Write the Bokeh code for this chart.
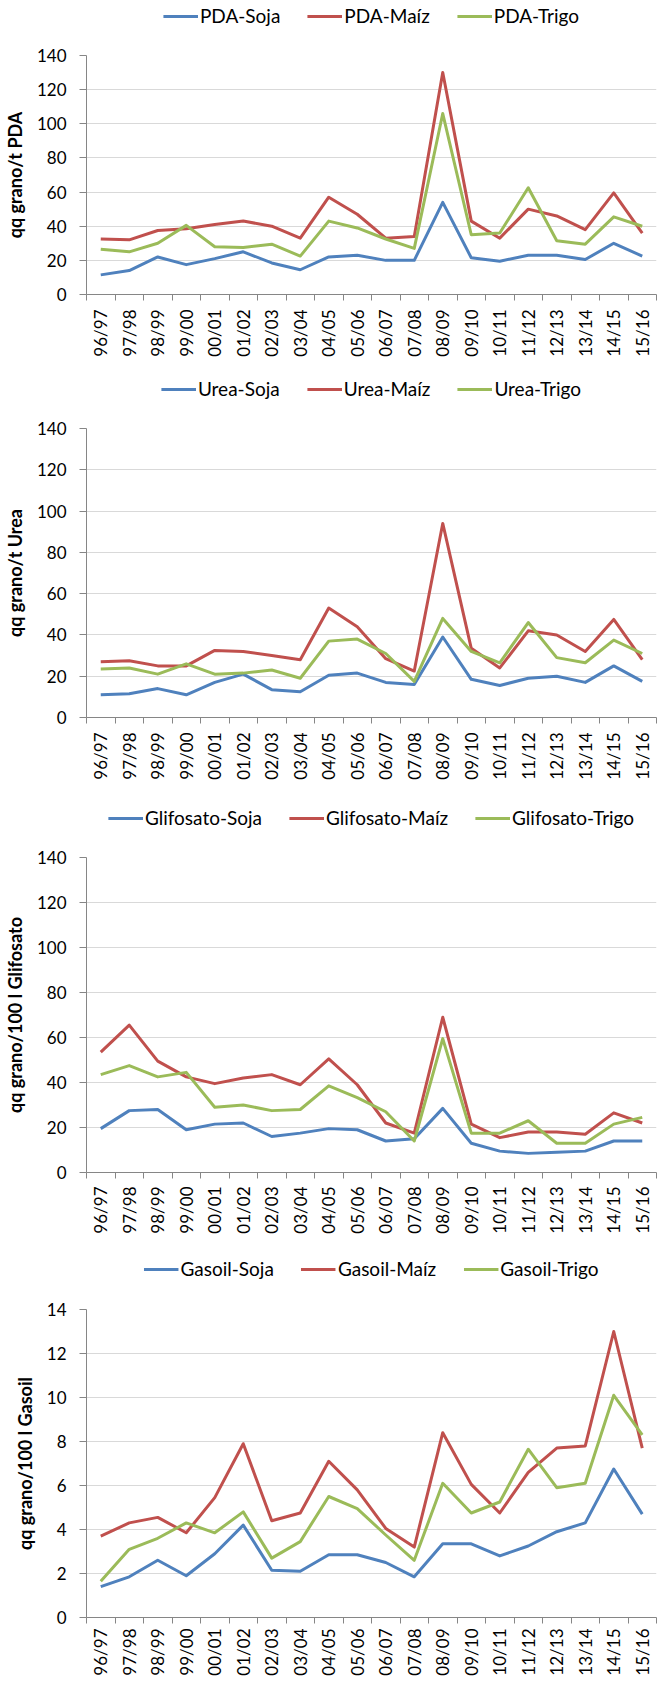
import numpy as np
from bokeh.plotting import figure
from bokeh.models import Range1d, FixedTicker, Legend, LegendItem
from bokeh.layouts import column
from bokeh.embed import file_html
from bokeh.resources import INLINE

seasons = ["96/97", "97/98", "98/99", "99/00", "00/01", "01/02", "02/03", "03/04",
           "04/05", "05/06", "06/07", "07/08", "08/09", "09/10", "10/11", "11/12",
           "12/13", "13/14", "14/15", "15/16"]

pda_soja = [11.5, 14, 22, 17.5, 21, 25, 18.5, 14.5, 22, 23, 20, 20, 54, 21.5, 19.5, 23, 23, 20.5, 30, 22.5]
pda_maiz = [32.5, 32, 37.5, 38.5, 41, 43, 40, 33, 57, 47, 33, 34, 130, 43, 33, 50, 46, 38, 59.5, 36]
pda_trigo = [26.5, 25, 30, 40.5, 28, 27.5, 29.5, 22.5, 43, 39, 32.5, 27, 106, 35, 36, 62.5, 31.5, 29.5, 45.5, 40]

urea_soja = [11, 11.5, 14, 11, 17, 21, 13.5, 12.5, 20.5, 21.5, 17, 16, 39, 18.5, 15.5, 19, 20, 17, 25, 17.5]
urea_maiz = [27, 27.5, 25, 25, 32.5, 32, 30, 28, 53, 44, 28.5, 22.5, 94, 33.5, 24, 42, 40, 32, 47.5, 28]
urea_trigo = [23.5, 24, 21, 26, 21, 21.5, 23, 19, 37, 38, 31, 17.5, 48, 32, 26.5, 46, 29, 26.5, 37.5, 31]

gli_soja = [19.5, 27.5, 28, 19, 21.5, 22, 16, 17.5, 19.5, 19, 14, 15, 28.5, 13, 9.5, 8.5, 9, 9.5, 14, 14]
gli_maiz = [53.5, 65.5, 49.5, 42.5, 39.5, 42, 43.5, 39, 50.5, 39, 22, 17.5, 69, 21.5, 15.5, 18, 18, 17, 26.5, 22]
gli_trigo = [43.5, 47.5, 42.5, 44.5, 29, 30, 27.5, 28, 38.5, 33.3, 27, 14, 59.5, 17.5, 17.5, 23, 13, 13, 21.5, 24.5]

gas_soja = [1.4, 1.85, 2.6, 1.9, 2.9, 4.2, 2.15, 2.1, 2.85, 2.85, 2.5, 1.85, 3.35, 3.35, 2.8, 3.25, 3.9, 4.3, 6.75, 4.7]
gas_maiz = [3.7, 4.3, 4.55, 3.85, 5.45, 7.9, 4.4, 4.75, 7.1, 5.8, 4.05, 3.2, 8.4, 6.05, 4.75, 6.6, 7.7, 7.8, 13.0, 7.7]
gas_trigo = [1.65, 3.1, 3.6, 4.3, 3.85, 4.8, 2.7, 3.45, 5.5, 4.95, 3.75, 2.6, 6.1, 4.75, 5.25, 7.65, 5.9, 6.1, 10.1, 8.3]

crops = ["Soja", "Maíz", "Trigo"]
colors = ["#4F81BD", "#C0504D", "#9BBB59"]
FONT = "Lato"
AXIS_COLOR = "#868686"
GRID_COLOR = "#D9D9D9"
W = 658


def make_legend_fig(prefix, series, height, bottom_margin):
    # A strip above each chart that only carries the legend (its lines lie outside its view).
    lf = figure(width=W, height=height, x_range=Range1d(0.5, 20.5), y_range=Range1d(-1001, -1000),
                output_backend="svg", toolbar_location=None,
                x_axis_location=None, y_axis_location=None,
                min_border=0, min_border_left=0, min_border_right=0,
                min_border_top=0, min_border_bottom=0)
    lf.outline_line_color = None
    lf.xgrid.visible = False
    lf.ygrid.visible = False
    xs = list(range(1, len(seasons) + 1))
    items = []
    for name, vals, col in zip(crops, series, colors):
        r = lf.line(xs, vals, line_color=col, line_width=3)
        items.append(LegendItem(label=f"{prefix}-{name}", renderers=[r]))
    legend = Legend(items=items, location="bottom_center", orientation="horizontal",
                    glyph_width=35, glyph_height=20, label_standoff=2, spacing=27,
                    padding=0, margin=bottom_margin, border_line_color=None,
                    background_fill_alpha=0,
                    label_text_font=FONT, label_text_font_size="19px",
                    label_text_color="#000000")
    lf.add_layout(legend)
    return lf


def make_panel(series, ymax, ystep, ylabel, height, b_top, b_bottom, b_left, x_standoff):
    p = figure(width=W, height=height, x_range=Range1d(0.5, 20.5), y_range=Range1d(0, ymax),
               output_backend="svg", toolbar_location=None,
               min_border_top=b_top, min_border_bottom=b_bottom,
               min_border_left=b_left, min_border_right=2)
    p.outline_line_color = None
    xs = list(range(1, len(seasons) + 1))
    for vals, col in zip(series, colors):
        p.line(xs, vals, line_color=col, line_width=3, line_join="round")

    # x axis: labels at category centres, small ticks on category boundaries
    xa = p.xaxis[0]
    xa.ticker = FixedTicker(ticks=xs, minor_ticks=[i + 0.5 for i in range(len(seasons) + 1)])
    xa.major_label_overrides = {i: s for i, s in zip(xs, seasons)}
    xa.major_label_orientation = np.pi / 2
    xa.major_tick_out = 0
    xa.major_tick_in = 0
    xa.minor_tick_out = 6
    xa.minor_tick_in = 0
    xa.minor_tick_line_color = AXIS_COLOR
    xa.axis_line_color = AXIS_COLOR
    xa.major_label_text_font = FONT
    xa.major_label_text_font_size = "17px"
    xa.major_label_text_color = "#000000"
    xa.major_label_standoff = x_standoff
    p.xgrid.visible = False

    # y axis
    ya = p.yaxis[0]
    yt = list(range(0, ymax + 1, ystep))
    ya.ticker = FixedTicker(ticks=yt, minor_ticks=[])
    ya.major_tick_out = 7
    ya.major_tick_in = 0
    ya.major_tick_line_color = AXIS_COLOR
    ya.axis_line_color = AXIS_COLOR
    ya.major_label_text_font = FONT
    ya.major_label_text_font_size = "17px"
    ya.major_label_text_color = "#000000"
    ya.major_label_standoff = 13
    ya.axis_label = ylabel
    ya.axis_label_text_font = FONT
    ya.axis_label_text_font_style = "bold"
    ya.axis_label_text_font_size = "18px"
    ya.axis_label_text_color = "#000000"
    ya.axis_label_standoff = 8
    p.ygrid.ticker = FixedTicker(ticks=yt)
    p.ygrid.grid_line_color = GRID_COLOR
    p.ygrid.grid_line_width = 1
    return p


l1 = make_legend_fig("PDA", [pda_soja, pda_maiz, pda_trigo], 45, 18)
p1 = make_panel([pda_soja, pda_maiz, pda_trigo], 140, 20, "qq grano/t PDA", 325, 10, 76, 82, 9)
l2 = make_legend_fig("Urea", [urea_soja, urea_maiz, urea_trigo], 48, 18)
p2 = make_panel([urea_soja, urea_maiz, urea_trigo], 140, 20, "qq grano/t Urea", 374, 10, 75, 80, 9)
l3 = make_legend_fig("Glifosato", [gli_soja, gli_maiz, gli_trigo], 55, 18)
p3 = make_panel([gli_soja, gli_maiz, gli_trigo], 140, 20, "qq grano/100 l Glifosato", 395, 10, 70, 77, 8)
l4 = make_legend_fig("Gasoil", [gas_soja, gas_maiz, gas_trigo], 57, 19)
p4 = make_panel([gas_soja, gas_maiz, gas_trigo], 14, 2, "qq grano/100 l Gasoil", 379, 10, 54, 65, 5)

layout = column(l1, p1, l2, p2, l3, p3, l4, p4, spacing=0)
open("out.html", "w").write(file_html(layout, INLINE))
